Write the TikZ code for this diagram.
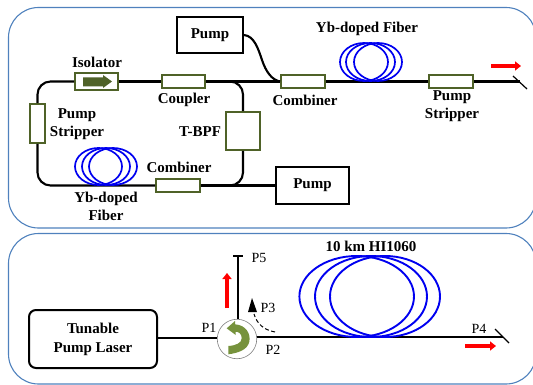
\documentclass[tikz,border=0pt]{standalone}
\usepackage{fontspec}
\setmainfont{Liberation Serif}
\usetikzlibrary{arrows.meta}
\definecolor{boxgreen}{HTML}{4F6228}
\definecolor{arrowgreen}{HTML}{76923C}
\definecolor{panelblue}{HTML}{4F81BD}
\definecolor{coilblue}{HTML}{0000F0}
\tikzset{
  panel/.style={draw=panelblue,line width=1.1pt,rounded corners=30pt},
  fiber/.style={draw=black,line width=2.1pt},
  thinfiber/.style={draw=black,line width=1.2pt},
  greenbox/.style={draw=boxgreen,fill=white,line width=1.8pt,inner sep=0pt},
  blackbox/.style={draw=black,fill=white,line width=2pt,inner sep=0pt,font=\fontsize{15}{19}\selectfont\bfseries},
  lab/.style={inner sep=0pt,align=center,font=\fontsize{15}{18}\selectfont\bfseries},
  portlab/.style={inner sep=0pt,font=\fontsize{14}{16}\selectfont},
  coil/.style={draw=coilblue,line width=1.7pt},
  bigcoil/.style={draw=coilblue,line width=1.9pt},
  redarrow/.style={draw=red,line width=4.6pt,-{Triangle[length=6pt,width=9pt,fill=red]}},
}
\begin{document}
\begin{tikzpicture}[x=1pt,y=-1pt]
\useasboundingbox (0,0) rectangle (533,385);
\clip (0,0) rectangle (533,385);
% panels
\draw[panel] (8.5,7.5) rectangle (536,228);
\draw[panel] (8.5,233.5) rectangle (536,384);
% top panel components
\node[blackbox,minimum width=66pt,minimum height=36pt] (pumpT) at (210,35) {Pump};
\node[blackbox,minimum width=73pt,minimum height=37pt] (pumpB) at (312.5,185.5) {Pump};
\node[greenbox,minimum width=43pt,minimum height=17pt] (iso) at (96.5,81.5) {};
\node[greenbox,minimum width=43pt,minimum height=13pt] (coupler) at (183.5,81.5) {};
\node[greenbox,minimum width=15pt,minimum height=39pt] (stripL) at (37.5,123.5) {};
\node[greenbox,minimum width=34pt,minimum height=38pt] (tbpf) at (243,131) {};
\node[greenbox,minimum width=44pt,minimum height=13pt] (combB) at (178,185.5) {};
\node[greenbox,minimum width=44pt,minimum height=13pt] (combT) at (303,81.5) {};
\node[greenbox,minimum width=44pt,minimum height=13pt] (stripR) at (451,81.5) {};
\coordinate (endT) at (520,81.5);
\coordinate (slashTa) at (513,76);
\coordinate (slashTb) at (527,89);
% top panel connectors
\draw[fiber,rounded corners=13pt] (iso.west) -| (stripL.north);
\draw[fiber,rounded corners=13pt] (stripL.south) |- (combB.west);
\draw[fiber] (iso.east) -- (coupler.west);
\draw[fiber,rounded corners=13pt] (coupler.east) -| (tbpf.north);
\draw[fiber,rounded corners=13pt] (tbpf.south) |- (combB.east);
\draw[fiber] (coupler.east) -- (combT.west);
\draw[fiber] (combB.east) -- (pumpB.west);
\draw[fiber] (combT.east) -- (stripR.west);
\draw[fiber] (stripR.east) -- (endT);
\draw[thinfiber] (slashTa) -- (slashTb);
\draw[fiber] (pumpT.east) .. controls (254,36) and (258,48) .. (262,60) .. controls (266,72) and (272,80) .. (combT.west);
% isolator arrow
\fill[boxgreen] (83,77.5) -- (103,77.5) -- (103,75) -- (112,81.5) -- (103,88) -- (103,86.5) -- (83,86.5) -- cycle;
% coils
\draw[coil] (98.5,166.5) ellipse [x radius=23.5pt,y radius=18.5pt];
\draw[coil] (106,166.5) ellipse [x radius=24pt,y radius=18.5pt];
\draw[coil] (113,166.5) ellipse [x radius=24pt,y radius=18.5pt];
\draw[coil] (364,62) ellipse [x radius=24pt,y radius=19pt];
\draw[coil] (370.5,62) ellipse [x radius=24.5pt,y radius=19pt];
\draw[coil] (378,62) ellipse [x radius=24pt,y radius=19pt];
% red arrows
\draw[redarrow] (491,66) -- (521,66);
% top labels
\node[lab] (tIso) at (97,62) {Isolator};
\node[lab] (tCoup) at (184,100) {Coupler};
\node[lab] (tStripL) at (77,124) {Pump\\Stripper};
\node[lab] (tBpf) at (200,132) {T-BPF};
\node[lab] (tCombB) at (179,167) {Combiner};
\node[lab] (tYbL) at (106,206.5) {Yb-doped\\Fiber};
\node[lab] (tYbR) at (367,29) {Yb-doped Fiber};
\node[lab] (tCombT) at (305,100) {Combiner};
\node[lab] (tStripR) at (452,106) {Pump\\Stripper};
% bottom panel components
\node[blackbox,rounded corners=7pt,align=center,minimum width=128pt,minimum height=58pt] (laser) at (93,339) {Tunable\\Pump Laser};
\node[circle,draw=gray,fill=white,line width=0.6pt,minimum size=39.5pt,inner sep=0pt] (circ) at (237,339) {};
\coordinate (endP5) at (238,256);
\coordinate (tickL) at (233,256);
\coordinate (tickR) at (243,256);
\coordinate (endP4) at (503,337);
\coordinate (slashBa) at (495,329);
\coordinate (slashBb) at (509,343);
\coordinate (dashA) at (275,332);
\coordinate (dashB) at (254,314);
\draw[fiber] (laser.east |- 0,338) -- (circ.west |- 0,338);
\draw[fiber] (238,319) -- (endP5);
\draw[thinfiber] (tickL) -- (tickR);
\draw[fiber] (circ.east |- 0,337) -- (endP4);
\draw[thinfiber] (slashBa) -- (slashBb);
\draw[bigcoil] (356.7,296.5) ellipse [x radius=57.3pt,y radius=40.5pt];
\draw[bigcoil] (371,296.5) ellipse [x radius=56pt,y radius=40.5pt];
\draw[bigcoil] (385,296.5) ellipse [x radius=55pt,y radius=40.5pt];
% green curved arrow
\fill[arrowgreen] (226.7,328.3) -- (235,321) -- (235,324.3)
  .. controls (246,325) and (251,334) .. (249.3,341.7)
  .. controls (247.5,350) and (238,353) .. (228.3,354.3)
  -- (228.3,346)
  .. controls (236,345.5) and (241.7,343) .. (241.7,338.3)
  .. controls (241.7,334) and (239,331.7) .. (235.7,331.7)
  -- (235.7,335) -- cycle;
% dashed arc with head
\draw[black,line width=1pt,dash pattern=on 4pt off 2.5pt] (dashA) .. controls (264,330) and (257,324) .. (dashB);
\fill[black] (252,298) -- (257,312) -- (248,312) -- cycle;
% red arrows
\draw[redarrow] (227,308) -- (227,273);
\draw[redarrow] (465,346) -- (496,346);
% bottom labels
\node[lab] (tHi) at (371,246) {10 km HI1060};
\node[portlab] (tP1) at (209,328) {P1};
\node[portlab] (tP2) at (273,350) {P2};
\node[portlab] (tP3) at (268,308) {P3};
\node[portlab] (tP4) at (479,329) {P4};
\node[portlab] (tP5) at (259,258) {P5};
\end{tikzpicture}
\end{document}
